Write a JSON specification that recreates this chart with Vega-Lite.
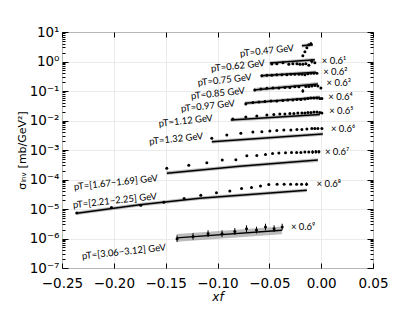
{
  "$schema": "https://vega.github.io/schema/vega-lite/v6.json",
  "width": 311,
  "height": 236,
  "autosize": "none",
  "padding": {"left": 62, "top": 32, "right": 42, "bottom": 52},
  "background": "white",
  "config": {
    "view": {"stroke": "black", "strokeWidth": 1},
    "font": "DejaVu Sans"
  },
  "datasets": {
    "pts": [
      {"s": "0.47", "x": -0.0177, "y": 1.56}, {"s": "0.47", "x": -0.0157, "y": 2.14}, {"s": "0.47", "x": -0.0138, "y": 2.92}, {"s": "0.47", "x": -0.0119, "y": 3.7}, {"s": "0.47", "x": -0.0099, "y": 4.0},
      {"s": "0.62", "x": -0.0476, "y": 0.816}, {"s": "0.62", "x": -0.0428, "y": 0.836}, {"s": "0.62", "x": -0.0369, "y": 0.904}, {"s": "0.62", "x": -0.0312, "y": 0.804}, {"s": "0.62", "x": -0.0273, "y": 0.836}, {"s": "0.62", "x": -0.0234, "y": 0.836}, {"s": "0.62", "x": -0.0206, "y": 0.804}, {"s": "0.62", "x": -0.0177, "y": 0.804}, {"s": "0.62", "x": -0.0148, "y": 0.836}, {"s": "0.62", "x": -0.0119, "y": 0.743}, {"s": "0.62", "x": -0.009, "y": 1.02}, {"s": "0.62", "x": -0.0061, "y": 0.904},
      {"s": "0.75", "x": -0.0572, "y": 0.326}, {"s": "0.75", "x": -0.0524, "y": 0.34}, {"s": "0.75", "x": -0.0476, "y": 0.34}, {"s": "0.75", "x": -0.0428, "y": 0.353}, {"s": "0.75", "x": -0.0379, "y": 0.353}, {"s": "0.75", "x": -0.0331, "y": 0.353}, {"s": "0.75", "x": -0.0292, "y": 0.367}, {"s": "0.75", "x": -0.0254, "y": 0.367}, {"s": "0.75", "x": -0.0215, "y": 0.367}, {"s": "0.75", "x": -0.0186, "y": 0.367}, {"s": "0.75", "x": -0.0157, "y": 0.353}, {"s": "0.75", "x": -0.0128, "y": 0.382}, {"s": "0.75", "x": -0.0099, "y": 0.397}, {"s": "0.75", "x": -0.007, "y": 0.397}, {"s": "0.75", "x": -0.0041, "y": 0.397},
      {"s": "0.85", "x": -0.064, "y": 0.109}, {"s": "0.85", "x": -0.0582, "y": 0.118}, {"s": "0.85", "x": -0.0524, "y": 0.123}, {"s": "0.85", "x": -0.0466, "y": 0.127}, {"s": "0.85", "x": -0.0408, "y": 0.127}, {"s": "0.85", "x": -0.035, "y": 0.132}, {"s": "0.85", "x": -0.0302, "y": 0.132}, {"s": "0.85", "x": -0.0254, "y": 0.138}, {"s": "0.85", "x": -0.0215, "y": 0.138}, {"s": "0.85", "x": -0.0177, "y": 0.1006}, {"s": "0.85", "x": -0.0148, "y": 0.143}, {"s": "0.85", "x": -0.0119, "y": 0.143}, {"s": "0.85", "x": -0.009, "y": 0.149}, {"s": "0.85", "x": -0.0061, "y": 0.155}, {"s": "0.85", "x": -0.0032, "y": 0.149}, {"s": "0.85", "x": -0.0003, "y": 0.127},
      {"s": "0.97", "x": -0.0727, "y": 0.0364}, {"s": "0.97", "x": -0.0659, "y": 0.0409}, {"s": "0.97", "x": -0.0601, "y": 0.0426}, {"s": "0.97", "x": -0.0543, "y": 0.0443}, {"s": "0.97", "x": -0.0485, "y": 0.0461}, {"s": "0.97", "x": -0.0428, "y": 0.0461}, {"s": "0.97", "x": -0.037, "y": 0.0479}, {"s": "0.97", "x": -0.0321, "y": 0.0498}, {"s": "0.97", "x": -0.0273, "y": 0.0498}, {"s": "0.97", "x": -0.0234, "y": 0.0518}, {"s": "0.97", "x": -0.0196, "y": 0.0518}, {"s": "0.97", "x": -0.0157, "y": 0.0538}, {"s": "0.97", "x": -0.0128, "y": 0.056}, {"s": "0.97", "x": -0.0099, "y": 0.0582}, {"s": "0.97", "x": -0.007, "y": 0.0582}, {"s": "0.97", "x": -0.0041, "y": 0.0582}, {"s": "0.97", "x": -0.0013, "y": 0.056}, {"s": "0.97", "x": 0.0007, "y": 0.056},
      {"s": "1.12", "x": -0.0852, "y": 0.01125}, {"s": "1.12", "x": -0.0727, "y": 0.01315}, {"s": "1.12", "x": -0.0621, "y": 0.01422}, {"s": "1.12", "x": -0.0524, "y": 0.01538}, {"s": "1.12", "x": -0.0457, "y": 0.016}, {"s": "1.12", "x": -0.0399, "y": 0.01664}, {"s": "1.12", "x": -0.035, "y": 0.01664}, {"s": "1.12", "x": -0.0302, "y": 0.0173}, {"s": "1.12", "x": -0.0263, "y": 0.0173}, {"s": "1.12", "x": -0.0225, "y": 0.018}, {"s": "1.12", "x": -0.0186, "y": 0.018}, {"s": "1.12", "x": -0.0157, "y": 0.018}, {"s": "1.12", "x": -0.0128, "y": 0.0187}, {"s": "1.12", "x": -0.0099, "y": 0.0187}, {"s": "1.12", "x": -0.007, "y": 0.01945}, {"s": "1.12", "x": -0.0041, "y": 0.01945}, {"s": "1.12", "x": -0.0013, "y": 0.0187}, {"s": "1.12", "x": 0.0007, "y": 0.018},
      {"s": "1.32", "x": -0.1055, "y": 0.00248}, {"s": "1.32", "x": -0.091, "y": 0.00321}, {"s": "1.32", "x": -0.0775, "y": 0.00367}, {"s": "1.32", "x": -0.0659, "y": 0.00406}, {"s": "1.32", "x": -0.0572, "y": 0.00416}, {"s": "1.32", "x": -0.0495, "y": 0.00439}, {"s": "1.32", "x": -0.0428, "y": 0.00457}, {"s": "1.32", "x": -0.036, "y": 0.00475}, {"s": "1.32", "x": -0.0292, "y": 0.00475}, {"s": "1.32", "x": -0.0234, "y": 0.00494}, {"s": "1.32", "x": -0.0186, "y": 0.00494}, {"s": "1.32", "x": -0.0138, "y": 0.00514}, {"s": "1.32", "x": -0.009, "y": 0.00535}, {"s": "1.32", "x": -0.0061, "y": 0.00535}, {"s": "1.32", "x": -0.0032, "y": 0.00535}, {"s": "1.32", "x": 0.0007, "y": 0.00535},
      {"s": "1.67", "x": -0.1489, "y": 0.000242}, {"s": "1.67", "x": -0.1277, "y": 0.000306}, {"s": "1.67", "x": -0.1103, "y": 0.000372}, {"s": "1.67", "x": -0.0954, "y": 0.000454}, {"s": "1.67", "x": -0.0823, "y": 0.000465}, {"s": "1.67", "x": -0.0717, "y": 0.000635}, {"s": "1.67", "x": -0.0621, "y": 0.000645}, {"s": "1.67", "x": -0.0537, "y": 0.000708}, {"s": "1.67", "x": -0.0469, "y": 0.000766}, {"s": "1.67", "x": -0.0408, "y": 0.000785}, {"s": "1.67", "x": -0.0344, "y": 0.000803}, {"s": "1.67", "x": -0.0286, "y": 0.000816}, {"s": "1.67", "x": -0.0237, "y": 0.000828}, {"s": "1.67", "x": -0.0196, "y": 0.000828}, {"s": "1.67", "x": -0.0157, "y": 0.000849}, {"s": "1.67", "x": -0.0119, "y": 0.000849}, {"s": "1.67", "x": -0.0083, "y": 0.000849}, {"s": "1.67", "x": -0.0051, "y": 0.000869}, {"s": "1.67", "x": -0.0022, "y": 0.000869},
      {"s": "2.21", "x": -0.2358, "y": 7.31e-6}, {"s": "2.21", "x": -0.2023, "y": 1.12e-5}, {"s": "2.21", "x": -0.174, "y": 1.34e-5}, {"s": "2.21", "x": -0.1518, "y": 1.69e-5}, {"s": "2.21", "x": -0.1322, "y": 2.26e-5}, {"s": "2.21", "x": -0.1161, "y": 2.92e-5}, {"s": "2.21", "x": -0.101, "y": 3.56e-5}, {"s": "2.21", "x": -0.0881, "y": 4.09e-5}, {"s": "2.21", "x": -0.0768, "y": 4.94e-5}, {"s": "2.21", "x": -0.0672, "y": 5.35e-5}, {"s": "2.21", "x": -0.0585, "y": 6.05e-5}, {"s": "2.21", "x": -0.0505, "y": 6.76e-5}, {"s": "2.21", "x": -0.0425, "y": 6.92e-5}, {"s": "2.21", "x": -0.0357, "y": 6.92e-5}, {"s": "2.21", "x": -0.0295, "y": 6.92e-5}, {"s": "2.21", "x": -0.0237, "y": 6.92e-5}, {"s": "2.21", "x": -0.0189, "y": 6.92e-5}, {"s": "2.21", "x": -0.0141, "y": 6.92e-5},
      {"s": "3.06", "x": -0.139, "y": 9.84e-7}, {"s": "3.06", "x": -0.1236, "y": 1.18e-6}, {"s": "3.06", "x": -0.1091, "y": 1.46e-6}, {"s": "3.06", "x": -0.0956, "y": 1.46e-6}, {"s": "3.06", "x": -0.0833, "y": 1.74e-6}, {"s": "3.06", "x": -0.072, "y": 2.15e-6}, {"s": "3.06", "x": -0.0624, "y": 1.93e-6}, {"s": "3.06", "x": -0.0537, "y": 2.44e-6}, {"s": "3.06", "x": -0.0454, "y": 2.15e-6}, {"s": "3.06", "x": -0.0376, "y": 2.44e-6}
    ],
    "err": [
      {"x": -0.139, "lo": 7.57e-7, "hi": 1.28e-6}, {"x": -0.1236, "lo": 9.1e-7, "hi": 1.53e-6}, {"x": -0.1091, "lo": 1.12e-6, "hi": 1.9e-6}, {"x": -0.0956, "lo": 1.12e-6, "hi": 1.9e-6}, {"x": -0.0833, "lo": 1.34e-6, "hi": 2.26e-6}, {"x": -0.072, "lo": 1.65e-6, "hi": 2.8e-6}, {"x": -0.0624, "lo": 1.48e-6, "hi": 2.51e-6}, {"x": -0.0537, "lo": 1.88e-6, "hi": 3.17e-6}, {"x": -0.0454, "lo": 1.65e-6, "hi": 2.8e-6}, {"x": -0.0376, "lo": 1.88e-6, "hi": 3.17e-6},
      {"x": -0.0083, "lo": 0.000738, "hi": 0.000976}, {"x": -0.0051, "lo": 0.000756, "hi": 0.000999}, {"x": -0.0022, "lo": 0.000756, "hi": 0.000999},
      {"x": -0.0141, "lo": 6.02e-5, "hi": 7.96e-5},
      {"x": -0.009, "lo": 0.85, "hi": 1.22},
      {"x": -0.0177, "lo": 0.0875, "hi": 0.1157},
      {"x": -0.0099, "lo": 3.48, "hi": 4.6}
    ],
    "model": [
      {"s": "0.47", "x": -0.0186, "y": 3.4, "lo": 2.96, "hi": 3.91}, {"s": "0.47", "x": -0.008, "y": 3.7, "lo": 3.22, "hi": 4.26},
      {"s": "0.62", "x": -0.0495, "y": 0.883, "lo": 0.768, "hi": 1.015}, {"s": "0.62", "x": -0.0061, "y": 1.14, "lo": 0.992, "hi": 1.311},
      {"s": "0.75", "x": -0.0582, "y": 0.326, "lo": 0.284, "hi": 0.375}, {"s": "0.75", "x": -0.0051, "y": 0.43, "lo": 0.374, "hi": 0.495},
      {"s": "0.85", "x": -0.065, "y": 0.109, "lo": 0.0948, "hi": 0.1254}, {"s": "0.85", "x": -0.0032, "y": 0.174, "lo": 0.1514, "hi": 0.2001},
      {"s": "0.97", "x": -0.0736, "y": 0.0385, "lo": 0.0335, "hi": 0.0443}, {"s": "0.97", "x": -0.0013, "y": 0.0615, "lo": 0.0535, "hi": 0.0707},
      {"s": "1.12", "x": -0.0872, "y": 0.0104, "lo": 0.00905, "hi": 0.01196}, {"s": "1.12", "x": -0.0013, "y": 0.016, "lo": 0.01392, "hi": 0.0184},
      {"s": "1.32", "x": -0.1055, "y": 0.0019, "lo": 0.00165, "hi": 0.00219}, {"s": "1.32", "x": 0.0016, "y": 0.00347, "lo": 0.00302, "hi": 0.00399},
      {"s": "1.67", "x": -0.1489, "y": 0.000164, "lo": 0.000143, "hi": 0.000189}, {"s": "1.67", "x": -0.0785, "y": 0.000283, "lo": 0.000246, "hi": 0.000325}, {"s": "1.67", "x": -0.0032, "y": 0.000454, "lo": 0.000395, "hi": 0.000522},
      {"s": "2.21", "x": -0.2358, "y": 7.14e-6, "lo": 6.21e-6, "hi": 8.21e-6}, {"s": "2.21", "x": -0.175, "y": 1.39e-5, "lo": 1.21e-5, "hi": 1.6e-5}, {"s": "2.21", "x": -0.1171, "y": 2.31e-5, "lo": 2.01e-5, "hi": 2.66e-5}, {"s": "2.21", "x": -0.0138, "y": 4.33e-5, "lo": 3.77e-5, "hi": 4.98e-5},
      {"s": "3.06", "x": -0.1393, "y": 1.05e-6, "lo": 7.8e-7, "hi": 1.42e-6}, {"s": "3.06", "x": -0.0379, "y": 1.89e-6, "lo": 1.4e-6, "hi": 2.55e-6}
    ],
    "lbl": [
      {"x": -0.0264, "y": 2.86, "t": "pT=0.47 GeV"},
      {"x": -0.0543, "y": 0.883, "t": "pT=0.62 GeV"},
      {"x": -0.0672, "y": 0.294, "t": "pT=0.75 GeV"},
      {"x": -0.0736, "y": 0.1032, "t": "pT=0.85 GeV"},
      {"x": -0.0833, "y": 0.0385, "t": "pT=0.97 GeV"},
      {"x": -0.1048, "y": 0.01216, "t": "pT=1.12 GeV"},
      {"x": -0.1139, "y": 0.00297, "t": "pT=1.32 GeV"},
      {"x": -0.1576, "y": 0.0001107, "t": "pT=[1.67−1.69] GeV"},
      {"x": -0.1586, "y": 2.7e-5, "t": "pT=[2.21−2.25] GeV"},
      {"x": -0.1499, "y": 5.0e-7, "t": "pT=[3.06−3.12] GeV"}
    ],
    "mul": [
      {"x": 0.0006, "y": 1.057, "t": "× 0.6¹"},
      {"x": 0.0019, "y": 0.457, "t": "× 0.6²"},
      {"x": 0.0052, "y": 0.184, "t": "× 0.6³"},
      {"x": 0.0068, "y": 0.0646, "t": "× 0.6⁴"},
      {"x": 0.0077, "y": 0.021, "t": "× 0.6⁵"},
      {"x": 0.0094, "y": 0.00514, "t": "× 0.6⁶"},
      {"x": 0.0036, "y": 0.000869, "t": "× 0.6⁷"},
      {"x": -0.0044, "y": 7.3e-5, "t": "× 0.6⁸"},
      {"x": -0.0292, "y": 2.44e-6, "t": "× 0.6⁹"}
    ]
  },
  "resolve": {"axis": {"x": "independent", "y": "independent"}},
  "layer": [
    {
      "data": {"name": "model"},
      "mark": {"type": "area", "color": "#8f8f8f", "opacity": 0.6},
      "encoding": {
        "x": {
          "field": "x", "type": "quantitative",
          "scale": {"domain": [-0.25, 0.05], "nice": false, "zero": false},
          "axis": {
            "orient": "bottom",
            "values": [-0.25, -0.2, -0.15, -0.1, -0.05, 0, 0.05],
            "labelExpr": "replace(format(datum.value, '.2f'), '-', '−')",
            "labelOverlap": false, "labelFlush": false,
            "labelFontSize": 13.5, "labelColor": "black", "labelFont": "DejaVu Sans",
            "tickSize": -5, "tickColor": "black", "tickWidth": 1, "labelPadding": 13,
            "domain": false,
            "grid": true, "gridColor": "#e6e6e6", "gridWidth": 0.8,
            "title": "xf", "titleFontStyle": "italic", "titleFont": "DejaVu Sans", "titleFontSize": 12, "titleFontWeight": "normal", "titleColor": "black", "titlePadding": 2
          }
        },
        "y": {
          "field": "lo", "type": "quantitative",
          "scale": {"type": "log", "domain": [1e-7, 10], "nice": false},
          "axis": {
            "orient": "left",
            "values": [1e-7, 2e-7, 3e-7, 4e-7, 5e-7, 6e-7, 7e-7, 8e-7, 9e-7, 1e-6, 2e-6, 3e-6, 4e-6, 5e-6, 6e-6, 7e-6, 8e-6, 9e-6, 1e-5, 2e-5, 3e-5, 4e-5, 5e-5, 6e-5, 7e-5, 8e-5, 9e-5, 1e-4, 2e-4, 3e-4, 4e-4, 5e-4, 6e-4, 7e-4, 8e-4, 9e-4, 1e-3, 2e-3, 3e-3, 4e-3, 5e-3, 6e-3, 7e-3, 8e-3, 9e-3, 1e-2, 2e-2, 3e-2, 4e-2, 5e-2, 6e-2, 7e-2, 8e-2, 9e-2, 0.1, 0.2, 0.3, 0.4, 0.5, 0.6, 0.7, 0.8, 0.9, 1, 2, 3, 4, 5, 6, 7, 8, 9, 10],
            "labelExpr": "abs(log(datum.value)/LN10 - round(log(datum.value)/LN10)) < 0.001 ? '10' + (round(log(datum.value)/LN10) < 0 ? '⁻' : '') + ['⁰','¹','²','³','⁴','⁵','⁶','⁷','⁸','⁹'][abs(round(log(datum.value)/LN10))] : ''",
            "labelOverlap": false, "labelFlush": false,
            "labelFontSize": 13.5, "labelColor": "black", "labelFont": "DejaVu Sans",
            "tickSize": {"condition": {"test": "abs(log(datum.value)/LN10 - round(log(datum.value)/LN10)) < 0.001", "value": -6}, "value": -3},
            "tickColor": "black", "tickWidth": 1, "labelPadding": 9,
            "domain": false,
            "grid": true, "gridColor": "#e6e6e6", "gridWidth": 0.8,
            "gridOpacity": {"condition": {"test": "abs(log(datum.value)/LN10 - round(log(datum.value)/LN10)) < 0.001", "value": 1}, "value": 0},
            "title": "σᵢₙᵥ  [mb/GeV²]", "titleFont": "DejaVu Sans", "titleFontSize": 11, "titleFontWeight": "normal", "titleColor": "black", "titlePadding": 2
          }
        },
        "y2": {"field": "hi"},
        "detail": {"field": "s"}
      }
    },
    {
      "data": {"name": "model"},
      "mark": {"type": "line", "color": "black", "strokeWidth": 1.5},
      "encoding": {
        "x": {"field": "x", "type": "quantitative", "axis": {
          "orient": "top", "values": [-0.25, -0.2, -0.15, -0.1, -0.05, 0, 0.05],
          "labels": false, "domain": false, "grid": false, "tickSize": -5, "tickColor": "black", "tickWidth": 1, "title": null}},
        "y": {"field": "y", "type": "quantitative", "axis": {
          "orient": "right",
          "values": [1e-7, 2e-7, 3e-7, 4e-7, 5e-7, 6e-7, 7e-7, 8e-7, 9e-7, 1e-6, 2e-6, 3e-6, 4e-6, 5e-6, 6e-6, 7e-6, 8e-6, 9e-6, 1e-5, 2e-5, 3e-5, 4e-5, 5e-5, 6e-5, 7e-5, 8e-5, 9e-5, 1e-4, 2e-4, 3e-4, 4e-4, 5e-4, 6e-4, 7e-4, 8e-4, 9e-4, 1e-3, 2e-3, 3e-3, 4e-3, 5e-3, 6e-3, 7e-3, 8e-3, 9e-3, 1e-2, 2e-2, 3e-2, 4e-2, 5e-2, 6e-2, 7e-2, 8e-2, 9e-2, 0.1, 0.2, 0.3, 0.4, 0.5, 0.6, 0.7, 0.8, 0.9, 1, 2, 3, 4, 5, 6, 7, 8, 9, 10],
          "labels": false, "domain": false, "grid": false,
          "tickSize": {"condition": {"test": "abs(log(datum.value)/LN10 - round(log(datum.value)/LN10)) < 0.001", "value": -6}, "value": -3},
          "tickColor": "black", "tickWidth": 1, "title": null}},
        "detail": {"field": "s"}
      }
    },
    {
      "data": {"name": "err"},
      "mark": {"type": "rule", "color": "black", "strokeWidth": 1},
      "encoding": {
        "x": {"field": "x", "type": "quantitative", "axis": null},
        "y": {"field": "lo", "type": "quantitative", "axis": null},
        "y2": {"field": "hi"}
      }
    },
    {
      "data": {"name": "pts"},
      "mark": {"type": "circle", "color": "black", "size": 9, "opacity": 1},
      "encoding": {
        "x": {"field": "x", "type": "quantitative", "axis": null},
        "y": {"field": "y", "type": "quantitative", "axis": null}
      }
    },
    {
      "data": {"name": "lbl"},
      "mark": {"type": "text", "align": "right", "baseline": "middle", "angle": -6, "font": "Lato", "fontSize": 9.5, "color": "black"},
      "encoding": {
        "x": {"field": "x", "type": "quantitative", "axis": null},
        "y": {"field": "y", "type": "quantitative", "axis": null},
        "text": {"field": "t"}
      }
    },
    {
      "data": {"name": "mul"},
      "mark": {"type": "text", "align": "left", "baseline": "middle", "font": "Lato", "fontSize": 9.5, "color": "black"},
      "encoding": {
        "x": {"field": "x", "type": "quantitative", "axis": null},
        "y": {"field": "y", "type": "quantitative", "axis": null},
        "text": {"field": "t"}
      }
    }
  ]
}
